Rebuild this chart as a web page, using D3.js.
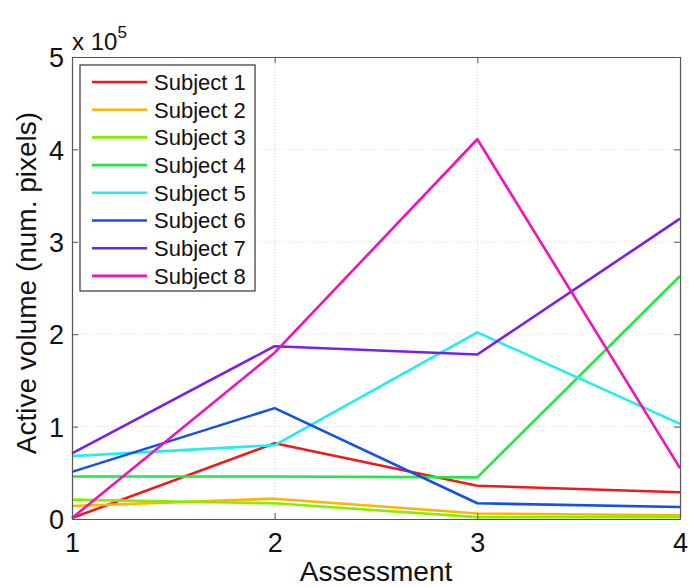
<!DOCTYPE html>
<html>
<head>
<meta charset="utf-8">
<script src="https://cdn.jsdelivr.net/npm/d3@7"></script>
<style>
  body { margin: 0; background: #fff; }
  svg { font-family: "Liberation Sans", Arial, sans-serif; }
</style>
</head>
<body>
<svg id="chart" width="689" height="587"></svg>
<script>
// values in units of 1e5 pixels
const assessments = [1, 2, 3, 4];
const subjects = ["Subject 1", "Subject 2", "Subject 3", "Subject 4",
                  "Subject 5", "Subject 6", "Subject 7", "Subject 8"];
const subject1 = [0.01, 0.82, 0.36, 0.29];
const subject2 = [0.14, 0.22, 0.06, 0.04];
const subject3 = [0.21, 0.17, 0.02, 0.02];
const subject4 = [0.46, 0.46, 0.45, 2.63];
const subject5 = [0.68, 0.80, 2.02, 1.03];
const subject6 = [0.51, 1.20, 0.17, 0.13];
const subject7 = [0.71, 1.87, 1.78, 3.25];
const subject8 = [0.01, 1.80, 4.11, 0.55];
const yTicks = [0, 1, 2, 3, 4, 5];
const colors = ["#f01818", "#ffb400", "#88ee00", "#22e844",
                "#22eeee", "#1450e6", "#7a1ee8", "#f012bb"];

const series = [subject1, subject2, subject3, subject4,
                subject5, subject6, subject7, subject8];

const svg = d3.select("#chart");
const margin = { left: 72, right: 9, top: 57, bottom: 68 };
const width = 689 - margin.left - margin.right;
const height = 587 - margin.top - margin.bottom;

const x = d3.scaleLinear().domain([1, 4]).range([0, width]);
const y = d3.scaleLinear().domain([0, 5]).range([height, 0]);

const g = svg.append("g")
    .attr("transform", `translate(${margin.left},${margin.top})`);

// grid
g.append("g")
    .selectAll("line")
    .data(yTicks.slice(1, -1))
    .join("line")
    .attr("x1", 0).attr("x2", width)
    .attr("y1", d => y(d)).attr("y2", d => y(d))
    .attr("stroke", "#d8d8d8")
    .attr("stroke-width", 1)
    .attr("stroke-dasharray", "1,2");

g.append("g")
    .selectAll("line")
    .data(assessments.slice(1, -1))
    .join("line")
    .attr("y1", 0).attr("y2", height)
    .attr("x1", d => x(d)).attr("x2", d => x(d))
    .attr("stroke", "#d8d8d8")
    .attr("stroke-width", 1)
    .attr("stroke-dasharray", "1,2");

// lines
const line = d3.line()
    .x((d, i) => x(assessments[i]))
    .y(d => y(d));

g.append("g")
    .selectAll("path")
    .data(series)
    .join("path")
    .attr("d", d => line(d))
    .attr("fill", "none")
    .attr("stroke", (d, i) => colors[i])
    .attr("stroke-width", 2.6)
    .attr("stroke-linejoin", "round");

// axes (MATLAB style: inward ticks, box all around)
const tickLen = -6;
const xAxis = g.append("g")
    .attr("transform", `translate(0,${height})`)
    .call(d3.axisBottom(x).tickValues(assessments).tickFormat(d3.format("d"))
        .tickSizeInner(tickLen).tickSizeOuter(0).tickPadding(14));
const yAxis = g.append("g")
    .call(d3.axisLeft(y).tickValues(yTicks).tickFormat(d3.format("d"))
        .tickSizeInner(tickLen).tickSizeOuter(0).tickPadding(8));
const xTop = g.append("g")
    .call(d3.axisTop(x).tickValues(assessments).tickFormat("")
        .tickSizeInner(tickLen).tickSizeOuter(0));
const yRight = g.append("g")
    .attr("transform", `translate(${width},0)`)
    .call(d3.axisRight(y).tickValues(yTicks).tickFormat("")
        .tickSizeInner(tickLen).tickSizeOuter(0));

[xAxis, yAxis, xTop, yRight].forEach(a => {
    a.select(".domain").attr("stroke", "#555").attr("stroke-width", 1.2);
    a.selectAll(".tick line").attr("stroke", "#555");
    a.selectAll(".tick text")
        .attr("fill", "#111")
        .attr("font-size", 27)
        .attr("font-family", "Liberation Sans, Arial, sans-serif");
});
xAxis.selectAll(".tick text").attr("dy", "0.72em");
yAxis.selectAll(".tick text").attr("dy", "0.36em");

// exponent label
const expo = svg.append("text")
    .attr("x", 72)
    .attr("y", 50)
    .attr("font-size", 24)
    .attr("fill", "#111");
expo.append("tspan").text("x 10");
expo.append("tspan").attr("dy", -12).attr("font-size", 17).text("5");

// axis labels
svg.append("text")
    .attr("x", margin.left + width / 2)
    .attr("y", 581)
    .attr("text-anchor", "middle")
    .attr("font-size", 28)
    .attr("fill", "#111")
    .text("Assessment");

svg.append("text")
    .attr("transform", `translate(36,${margin.top + height / 2 - 5}) rotate(-90)`)
    .attr("text-anchor", "middle")
    .attr("font-size", 28)
    .attr("fill", "#111")
    .text("Active volume (num. pixels)");

// legend
const legend = svg.append("g").attr("transform", "translate(80,65)");
legend.append("rect")
    .attr("width", 175).attr("height", 226)
    .attr("fill", "#fff")
    .attr("stroke", "#333")
    .attr("stroke-width", 1.2);

const rows = legend.selectAll("g.row")
    .data(subjects)
    .join("g")
    .attr("class", "row")
    .attr("transform", (d, i) => `translate(0,${17 + i * 27.7})`);
rows.append("line")
    .attr("x1", 12).attr("x2", 67)
    .attr("stroke", (d, i) => colors[i])
    .attr("stroke-width", 2.6);
rows.append("text")
    .attr("x", 74)
    .attr("dy", "0.36em")
    .attr("font-size", 22)
    .attr("fill", "#111")
    .text(d => d);
</script>
</body>
</html>
